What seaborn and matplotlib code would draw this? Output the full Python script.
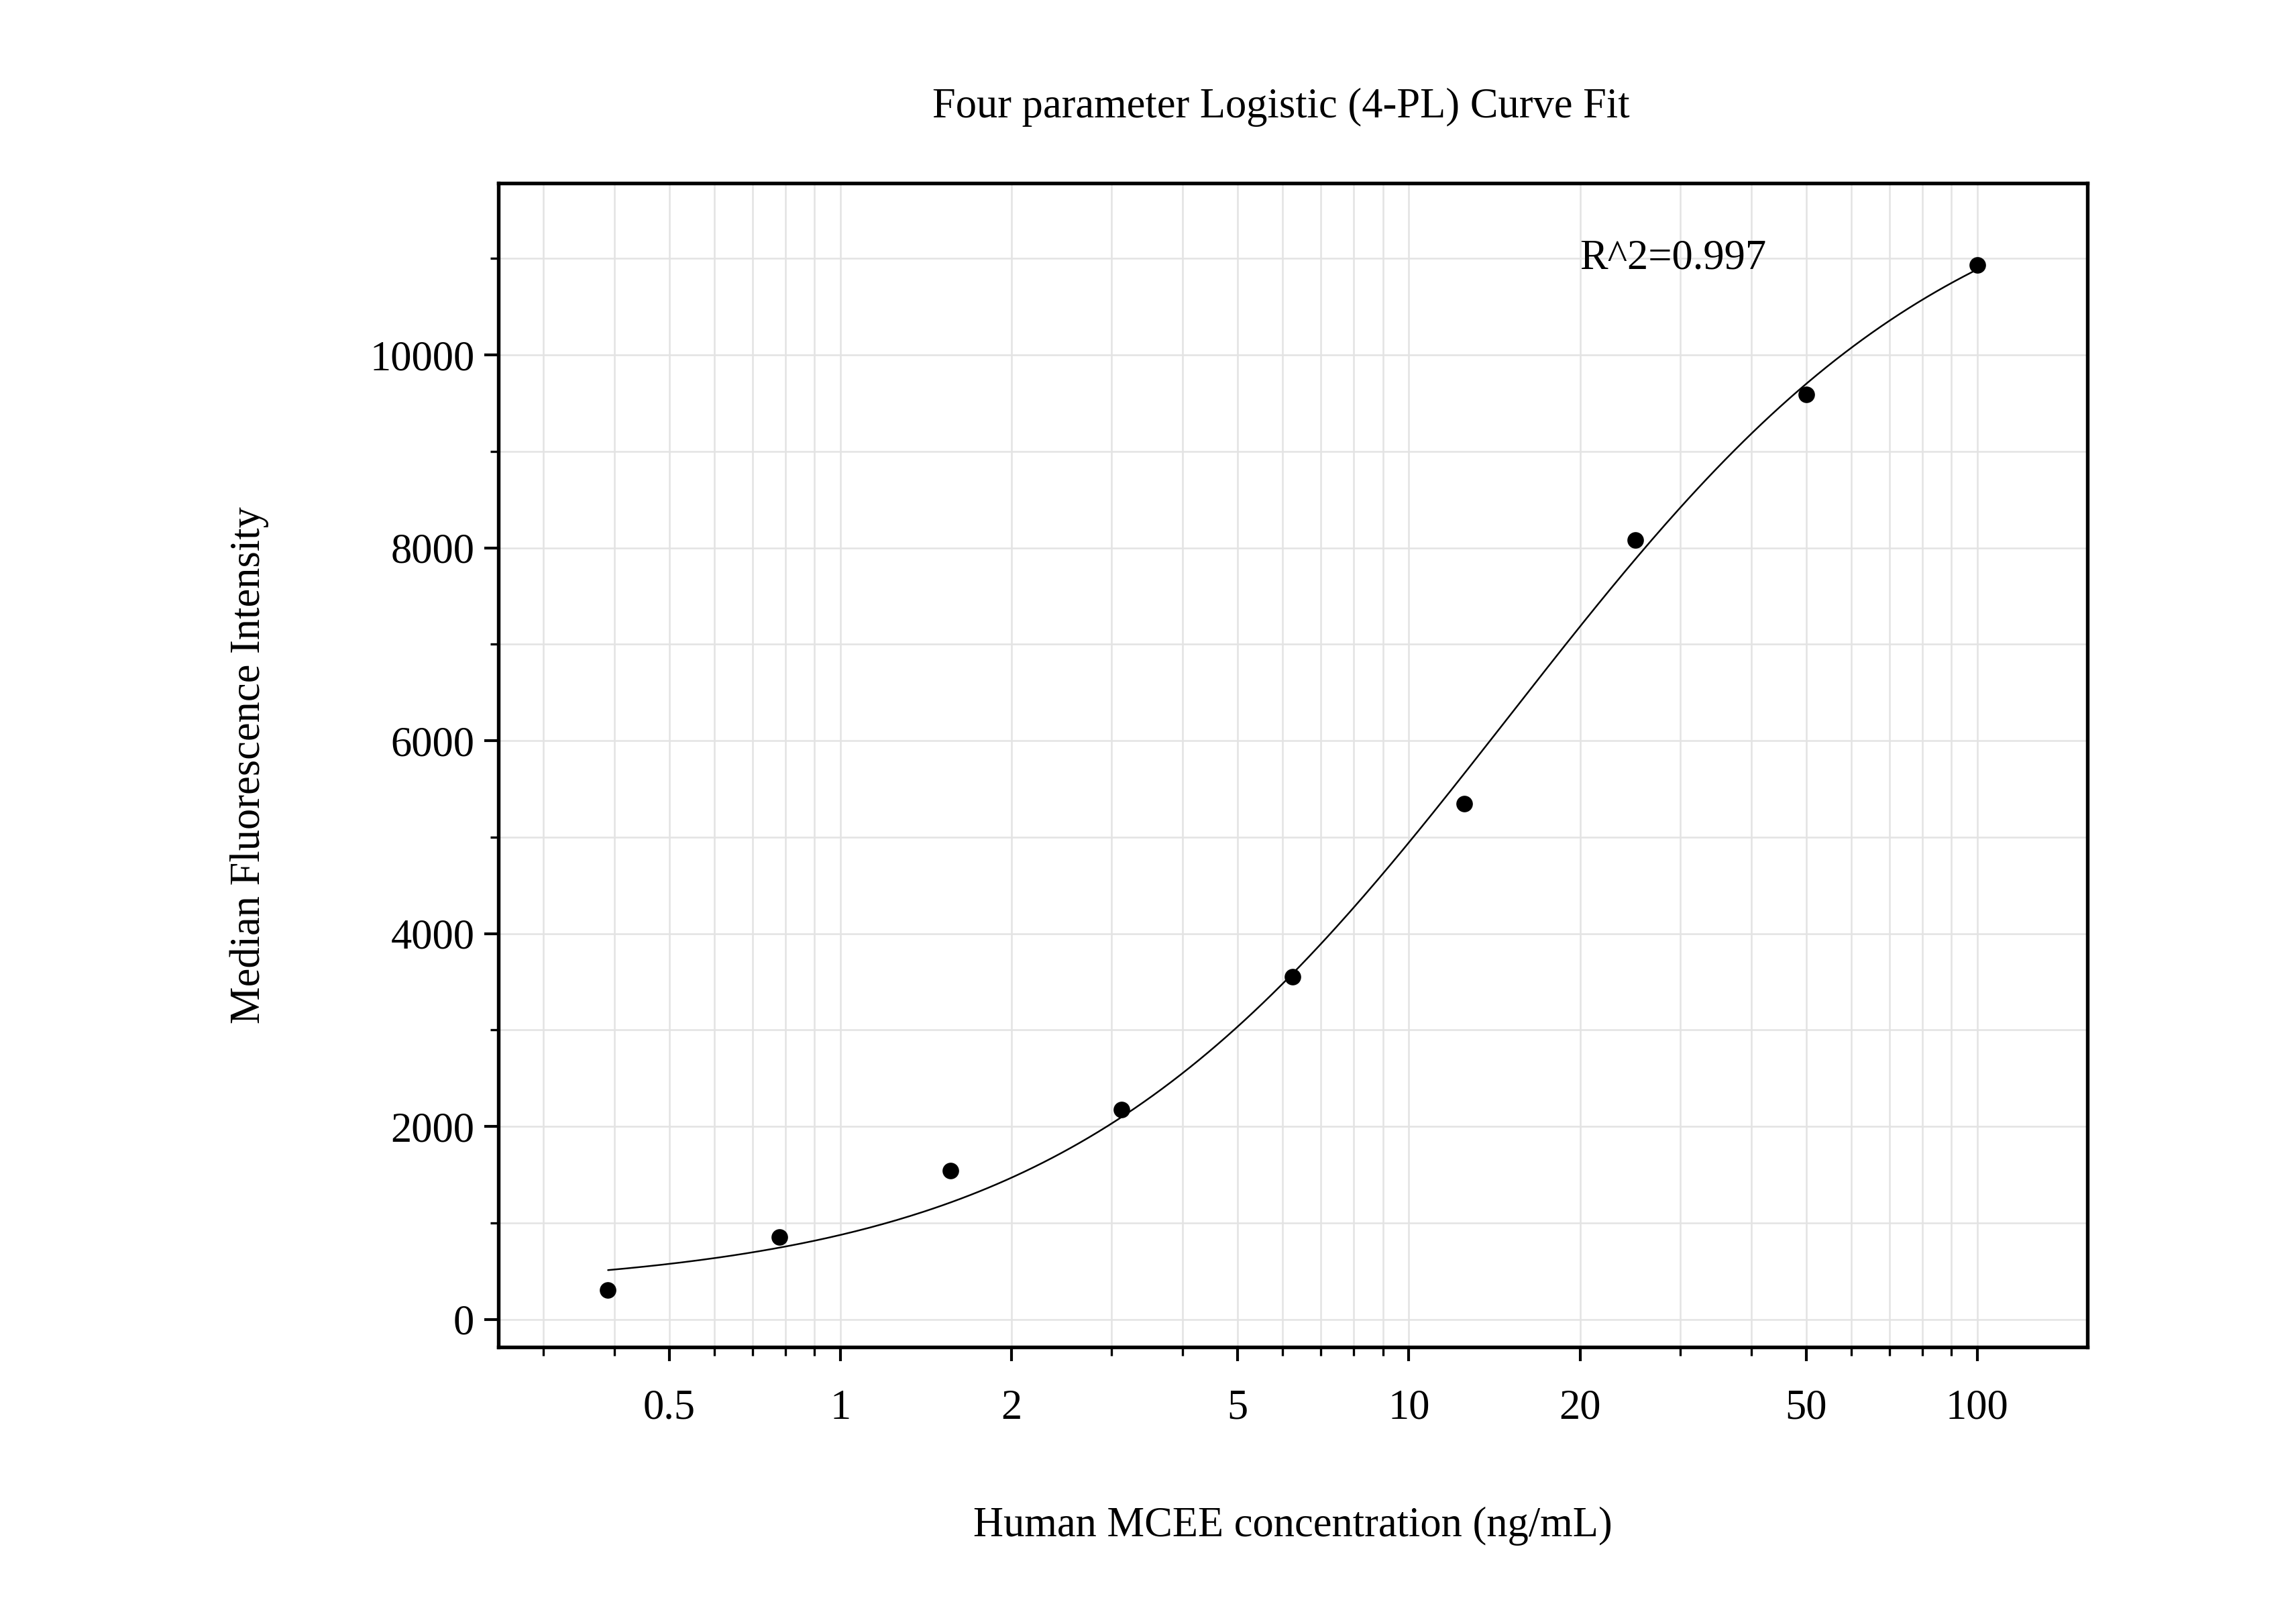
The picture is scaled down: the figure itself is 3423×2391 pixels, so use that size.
import numpy as np
import pandas as pd
import seaborn as sns
import matplotlib
matplotlib.use("Agg")
import matplotlib.pyplot as plt
from matplotlib.ticker import LogLocator, FixedLocator, MultipleLocator, FuncFormatter

conc = [0.39, 0.78, 1.56, 3.125, 6.25, 12.5, 25, 50, 100]
mfi = [305, 854, 1545, 2175, 3555, 5350, 8080, 9590, 10930]
# 4PL fit parameters (bottom, top, EC50, slope)
fit_bottom, fit_top, fit_c, fit_b = 300, 12200, 15, 1.1
xticks = [0.5, 1, 2, 5, 10, 20, 50, 100]
yticks = [0, 2000, 4000, 6000, 8000, 10000]

sns.set_style("white")
plt.rcParams["font.family"] = "Liberation Serif"
plt.rcParams["text.color"] = "black"
plt.rcParams["axes.labelcolor"] = "black"
plt.rcParams["xtick.color"] = "black"
plt.rcParams["ytick.color"] = "black"
fig = plt.figure(figsize=(11.41, 7.97), dpi=300)
ax = fig.add_axes([0.217, 0.160, 0.692, 0.726])

xs = np.logspace(np.log10(conc[0]), np.log10(conc[-1]), 300)
ys = fit_top + (fit_bottom - fit_top) / (1 + (xs / fit_c) ** fit_b)
sns.lineplot(x=xs, y=ys, ax=ax, color="black", linewidth=0.6)
sns.scatterplot(x=conc, y=mfi, ax=ax, color="black", s=30, edgecolor="black", zorder=5)

ax.set_xscale("log")
ax.set_xlim(0.25, 156)
ax.set_ylim(-290, 11784)
ax.xaxis.set_major_locator(FixedLocator(xticks))
ax.xaxis.set_major_formatter(FuncFormatter(lambda v, p: f"{v:g}"))
ax.xaxis.set_minor_locator(LogLocator(base=10, subs=np.arange(1, 10)))
ax.yaxis.set_major_locator(FixedLocator(yticks))
ax.yaxis.set_minor_locator(MultipleLocator(1000))
ax.grid(True, which="both", color="#e3e3e3", linewidth=0.6)
ax.set_axisbelow(True)
for s in ax.spines.values():
    s.set_linewidth(1.3)
    s.set_color("black")
ax.tick_params(which="major", direction="out", length=5, width=1, labelsize=15, bottom=True, left=True)
ax.tick_params(which="minor", direction="out", length=3, width=0.8, bottom=True, left=True)
ax.tick_params(axis="x", pad=10)
ax.set_xlabel("Human MCEE concentration (ng/mL)", fontsize=15, labelpad=28)
ax.set_ylabel("Median Fluorescence Intensity", fontsize=15, labelpad=36)
ax.text(20, 11000, "R^2=0.997", fontsize=15, ha="left", va="center")
fig.text(0.558, 0.933, "Four parameter Logistic (4-PL) Curve Fit", fontsize=15, ha="center", va="center")
fig.savefig("out.png", dpi=300)
